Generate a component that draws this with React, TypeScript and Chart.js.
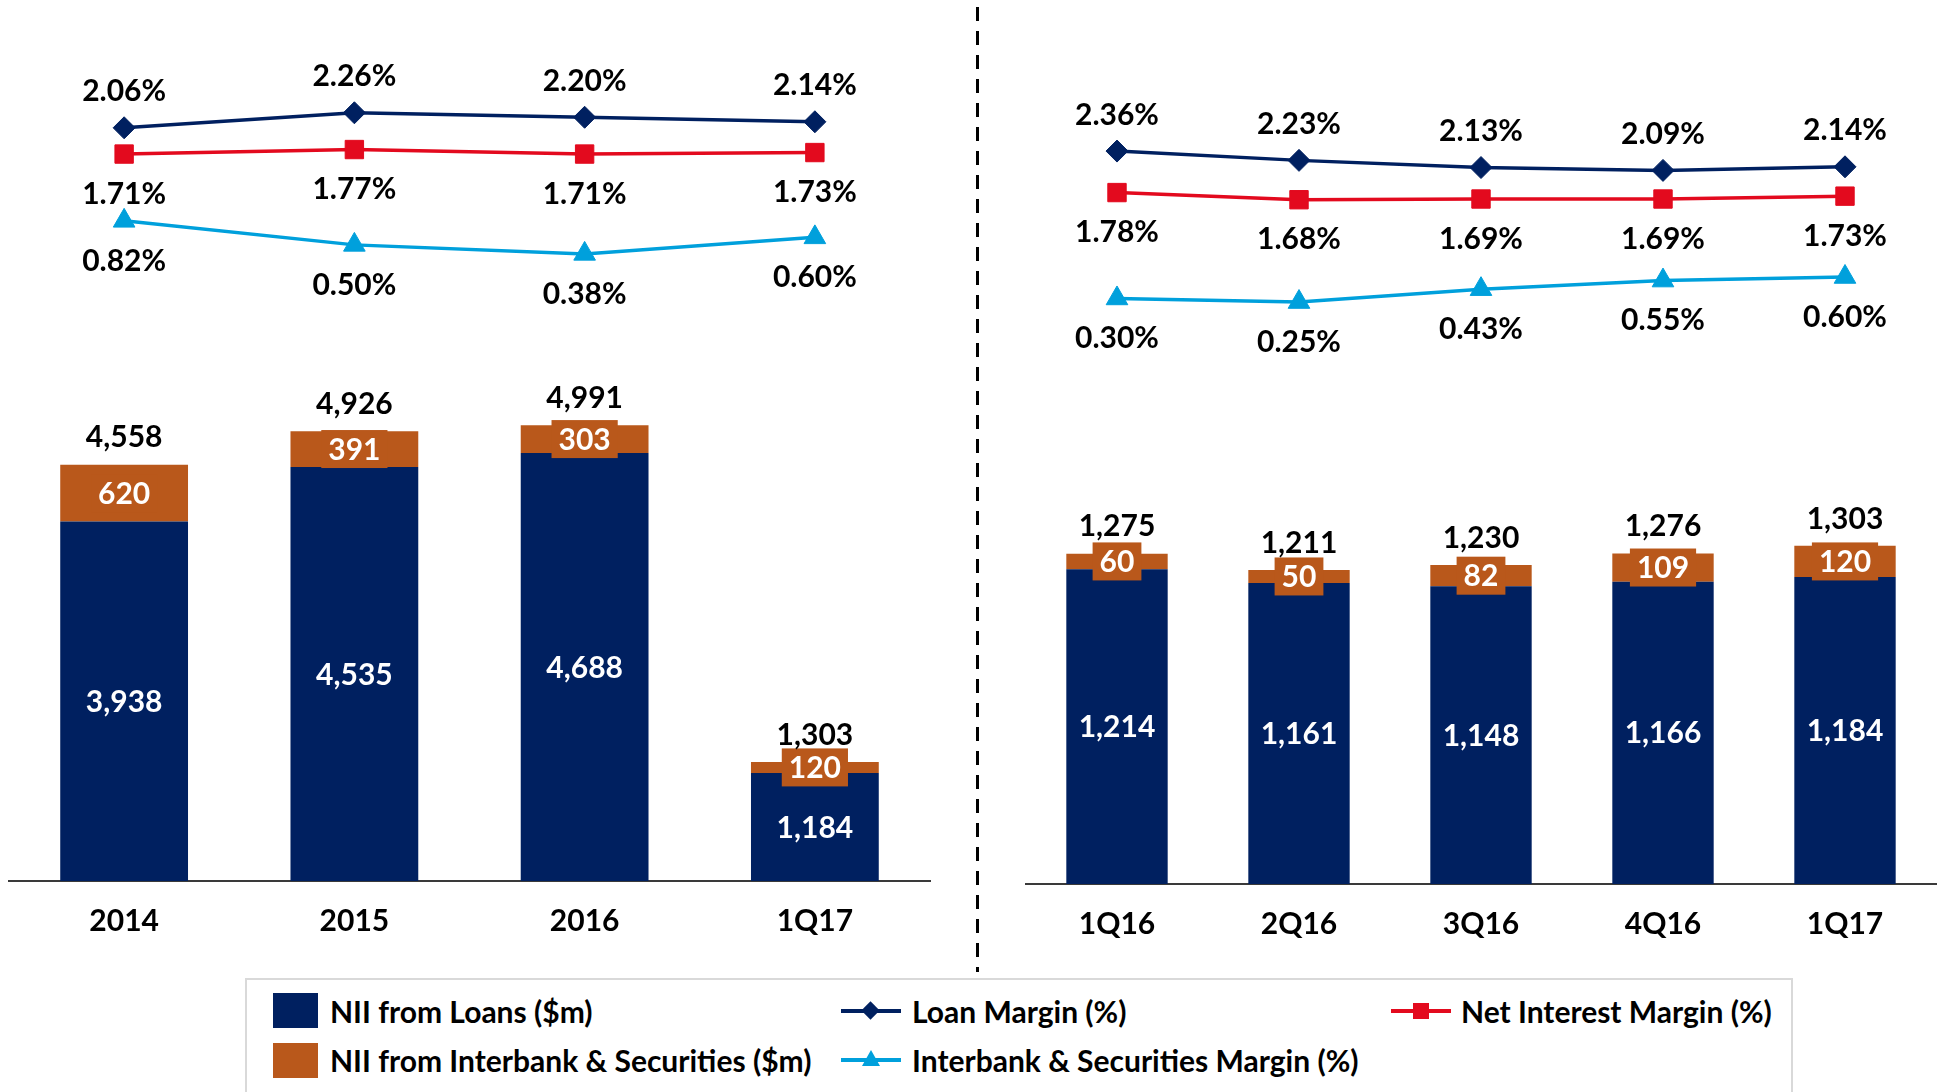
import React, { useEffect, useRef } from 'react';
import { Chart, registerables } from 'chart.js';

Chart.register(...registerables);

// ---------- data ----------
const annualCategories = ['2014', '2015', '2016', '1Q17'];
const annualLoans = [3938, 4535, 4688, 1184];
const annualInterbank = [620, 391, 303, 120];
const annualTotals = [4558, 4926, 4991, 1303];
const annualLoanMargin = [2.06, 2.26, 2.2, 2.14];
const annualNim = [1.71, 1.77, 1.71, 1.73];
const annualIbMargin = [0.82, 0.5, 0.38, 0.6];

const quarterCategories = ['1Q16', '2Q16', '3Q16', '4Q16', '1Q17'];
const quarterLoans = [1214, 1161, 1148, 1166, 1184];
const quarterInterbank = [60, 50, 82, 109, 120];
const quarterTotals = [1275, 1211, 1230, 1276, 1303];
const quarterLoanMargin = [2.36, 2.23, 2.13, 2.09, 2.14];
const quarterNim = [1.78, 1.68, 1.69, 1.69, 1.73];
const quarterIbMargin = [0.3, 0.25, 0.43, 0.55, 0.6];

const seriesNames = {
  loans: 'NII from Loans ($m)',
  interbank: 'NII from Interbank & Securities ($m)',
  loanMargin: 'Loan Margin (%)',
  nim: 'Net Interest Margin (%)',
  ibMargin: 'Interbank & Securities Margin (%)',
};

// ---------- style ----------
const NAVY = '#002060';
const ORANGE = '#B9581B';
const RED = '#E30A1E';
const LIGHT_BLUE = '#00A0DC';
const FONT = 'Lato';
const FONT_SIZE = 30;

function fmtNum(v: number) {
  return v.toLocaleString('en-US');
}
function fmtPct(v: number) {
  return v.toFixed(2) + '%';
}

function makeLabelPlugin(totals: number[]) {
  return {
    id: 'valueLabels',
    afterDatasetsDraw(chart: any) {
      const ctx = chart.ctx as CanvasRenderingContext2D;
      ctx.save();
      ctx.font = `bold ${FONT_SIZE}px ${FONT}`;
      ctx.textAlign = 'center';
      ctx.textBaseline = 'middle';
      chart.data.datasets.forEach((ds: any, di: number) => {
        const meta = chart.getDatasetMeta(di);
        meta.data.forEach((el: any, i: number) => {
          const v = ds.data[i];
          if (ds.labelKind === 'barCenter') {
            ctx.fillStyle = '#ffffff';
            ctx.fillText(fmtNum(v), el.x, (el.y + el.base) / 2 + 1);
          } else if (ds.labelKind === 'barBox') {
            const txt = fmtNum(v);
            const w = ctx.measureText(txt).width + 14;
            const h = 38;
            const cy = (el.y + el.base) / 2;
            ctx.fillStyle = ORANGE;
            ctx.fillRect(el.x - w / 2, cy - h / 2, w, h);
            ctx.fillStyle = '#ffffff';
            ctx.fillText(txt, el.x, cy + 1);
            ctx.fillStyle = '#000000';
            ctx.fillText(fmtNum(totals[i]), el.x, el.y - 27);
          } else if (ds.labelKind === 'above') {
            ctx.fillStyle = '#000000';
            ctx.fillText(fmtPct(v), el.x, el.y - 36);
          } else if (ds.labelKind === 'below') {
            ctx.fillStyle = '#000000';
            ctx.fillText(fmtPct(v), el.x, el.y + 40);
          }
        });
      });
      ctx.restore();
    },
  };
}

function lineDs(label: string, data: number[], color: string, pointStyle: string, radius: number, labelKind: string) {
  return {
    type: 'line',
    label,
    data,
    yAxisID: 'yLine',
    borderColor: color,
    backgroundColor: color,
    pointBackgroundColor: color,
    pointBorderColor: color,
    pointBorderWidth: 1,
    borderWidth: 3.5,
    pointStyle,
    pointRadius: radius,
    pointHoverRadius: radius,
    tension: 0,
    fill: false,
    order: 0,
    labelKind,
  };
}

function barDs(label: string, data: number[], color: string, barPct: number, labelKind: string) {
  return {
    type: 'bar',
    label,
    data,
    yAxisID: 'yBar',
    backgroundColor: color,
    borderWidth: 0,
    stack: 'nii',
    barPercentage: barPct,
    categoryPercentage: 1,
    order: 1,
    labelKind,
  };
}

function makeConfig(opts: {
  labels: string[];
  loans: number[];
  interbank: number[];
  totals: number[];
  lm: number[];
  nim: number[];
  ibm: number[];
  barPct: number;
  barMax: number;
  lineMin: number;
  lineMax: number;
  padding: { left: number; right: number; top: number; bottom: number };
}): any {
  return {
    type: 'bar',
    data: {
      labels: opts.labels,
      datasets: [
        lineDs(seriesNames.loanMargin, opts.lm, NAVY, 'rectRot', 11, 'above'),
        lineDs(seriesNames.nim, opts.nim, RED, 'rect', 13, 'below'),
        lineDs(seriesNames.ibMargin, opts.ibm, LIGHT_BLUE, 'triangle', 12.5, 'below'),
        barDs(seriesNames.loans, opts.loans, NAVY, opts.barPct, 'barCenter'),
        barDs(seriesNames.interbank, opts.interbank, ORANGE, opts.barPct, 'barBox'),
      ],
    },
    options: {
      animation: false,
      responsive: false,
      maintainAspectRatio: false,
      layout: { padding: opts.padding },
      plugins: { legend: { display: false }, tooltip: { enabled: false } },
      scales: {
        x: {
          stacked: true,
          grid: { display: false, drawTicks: false },
          border: { display: true, color: '#3a3a3a', width: 2 },
          ticks: {
            font: { family: FONT, size: FONT_SIZE, weight: 'bold' },
            color: '#000000',
            padding: 22,
            maxRotation: 0,
            autoSkip: false,
          },
        },
        yBar: { stacked: true, display: false, min: 0, max: opts.barMax },
        yLine: { display: false, min: opts.lineMin, max: opts.lineMax },
      },
    },
    plugins: [makeLabelPlugin(opts.totals)],
  };
}

function LegendItems() {
  const text: React.CSSProperties = {
    position: 'absolute',
    font: `bold ${FONT_SIZE}px ${FONT}`,
    color: '#000',
    lineHeight: '36px',
    height: 36,
    whiteSpace: 'nowrap',
  };
  const lineBar = (left: number, top: number, color: string): React.CSSProperties => ({
    position: 'absolute',
    left,
    top,
    width: 60,
    height: 4,
    background: color,
  });
  return (
    <>
      <div style={{ position: 'absolute', left: 245, top: 978, width: 1548, height: 140, border: '2px solid #D9D9D9', boxSizing: 'border-box', background: '#fff' }} />
      {/* row 1 */}
      <div style={{ position: 'absolute', left: 273, top: 993, width: 45, height: 35, background: NAVY }} />
      <div style={{ ...text, left: 330, top: 993 }}>{seriesNames.loans}</div>
      <div style={lineBar(841, 1009, NAVY)} />
      <div style={{ position: 'absolute', left: 864, top: 1004, width: 13, height: 13, background: NAVY, transform: 'rotate(45deg)' }} />
      <div style={{ ...text, left: 912, top: 993 }}>{seriesNames.loanMargin}</div>
      <div style={lineBar(1391, 1009, RED)} />
      <div style={{ position: 'absolute', left: 1413, top: 1003, width: 16, height: 16, background: RED }} />
      <div style={{ ...text, left: 1461, top: 993 }}>{seriesNames.nim}</div>
      {/* row 2 */}
      <div style={{ position: 'absolute', left: 273, top: 1043, width: 45, height: 35, background: ORANGE }} />
      <div style={{ ...text, left: 330, top: 1042 }}>{seriesNames.interbank}</div>
      <div style={lineBar(841, 1058, LIGHT_BLUE)} />
      <div style={{ position: 'absolute', left: 862, top: 1050, width: 0, height: 0, borderLeft: '9px solid transparent', borderRight: '9px solid transparent', borderBottom: `16px solid ${LIGHT_BLUE}` }} />
      <div style={{ ...text, left: 912, top: 1042 }}>{seriesNames.ibMargin}</div>
    </>
  );
}

export default function App() {
  const leftRef = useRef<HTMLCanvasElement>(null);
  const rightRef = useRef<HTMLCanvasElement>(null);

  useEffect(() => {
    let cancelled = false;
    const charts: Chart[] = [];
    const build = () => {
      if (cancelled || !leftRef.current || !rightRef.current) return;
      charts.push(
        new Chart(
          leftRef.current,
          makeConfig({
            labels: annualCategories,
            loans: annualLoans,
            interbank: annualInterbank,
            totals: annualTotals,
            lm: annualLoanMargin,
            nim: annualNim,
            ibm: annualIbMargin,
            barPct: 0.555,
            barMax: 9429,
            lineMin: -7.975,
            lineMax: 3.496,
            padding: { left: 3, right: 20, top: 20, bottom: 24 },
          })
        )
      );
      charts.push(
        new Chart(
          rightRef.current,
          makeConfig({
            labels: quarterCategories,
            loans: quarterLoans,
            interbank: quarterInterbank,
            totals: quarterTotals,
            lm: quarterLoanMargin,
            nim: quarterNim,
            ibm: quarterIbMargin,
            barPct: 0.557,
            barMax: 3332,
            lineMin: -7.884,
            lineMax: 4.192,
            padding: { left: 66, right: 4, top: 20, bottom: 21 },
          })
        )
      );
    };
    const fontsApi = (document as any).fonts;
    if (fontsApi && fontsApi.load) {
      fontsApi.load(`bold ${FONT_SIZE}px ${FONT}`).then(build, build);
    } else {
      build();
    }
    return () => {
      cancelled = true;
      charts.forEach((c) => c.destroy());
    };
  }, []);

  return (
    <div style={{ position: 'absolute', left: 0, top: 0, width: 1940, height: 1092, overflow: 'hidden', background: '#ffffff' }}>
      <canvas ref={leftRef} width={955} height={985} style={{ position: 'absolute', left: -5, top: 0, width: 955, height: 985 }} />
      <canvas ref={rightRef} width={990} height={985} style={{ position: 'absolute', left: 960, top: 0, width: 990, height: 985 }} />
      <svg width={1940} height={1092} style={{ position: 'absolute', left: 0, top: 0, pointerEvents: 'none' }}>
        <line x1={977.5} y1={7} x2={977.5} y2={972} stroke="#000" strokeWidth={3} strokeDasharray="14 10" />
      </svg>
      <LegendItems />
    </div>
  );
}
